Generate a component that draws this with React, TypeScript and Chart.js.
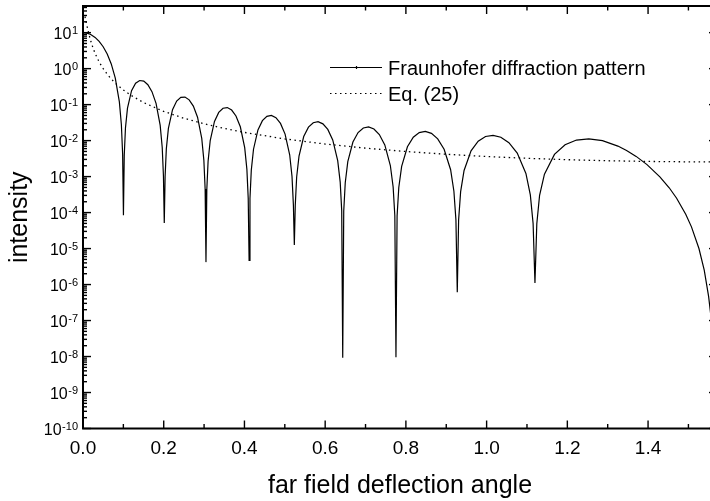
import React, { useEffect, useRef } from "react";
import { Chart, registerables } from "chart.js";

Chart.register(...registerables);

// ---- data ----
const fraunhoferAngle = [
  0, 0.005, 0.01, 0.015, 0.02, 0.03, 0.04, 0.05, 0.06, 0.07, 0.08, 0.0901, 0.0951, 0.0982, 0.10017,
  0.10218, 0.10519, 0.11022, 0.12029, 0.13037, 0.14046, 0.15057, 0.16069, 0.17083, 0.18099, 0.19116, 0.19626, 0.19932, 0.20136,
  0.2034, 0.20646, 0.21158, 0.22181, 0.23208, 0.24237, 0.25268, 0.26302, 0.27339, 0.28379, 0.29423, 0.29945, 0.3026, 0.30469,
  0.30679, 0.30993, 0.31519, 0.32573, 0.3363, 0.34692, 0.35757, 0.36827, 0.37901, 0.3898, 0.40063, 0.40606, 0.40934, 0.41152,
  0.4137, 0.41697, 0.42245, 0.43345, 0.44449, 0.4556, 0.46677, 0.478, 0.48929, 0.50066, 0.51209, 0.51783, 0.52129, 0.5236,
  0.52591, 0.52937, 0.53519, 0.54685, 0.5586, 0.57044, 0.58236, 0.59439, 0.60651, 0.61873, 0.63106, 0.63725, 0.641, 0.6435,
  0.646, 0.64975, 0.65606, 0.66874, 0.68155, 0.6945, 0.70758, 0.72082, 0.73421, 0.74776, 0.76149, 0.7684, 0.7726, 0.7754,
  0.7782, 0.7824, 0.7895, 0.8038, 0.81832, 0.83307, 0.84806, 0.86331, 0.87884, 0.89467, 0.91081, 0.91896, 0.92396, 0.9273,
  0.93063, 0.93563, 0.94415, 0.96141, 0.97911, 0.99728, 1.01599, 1.03527, 1.0552, 1.07586, 1.09735, 1.1083, 1.11518, 1.11977,
  1.12436, 1.13124, 1.14328, 1.16808, 1.19441, 1.22263, 1.25324, 1.287, 1.32523, 1.34672, 1.37046, 1.39737, 1.42926, 1.4524,
  1.47076, 1.49332, 1.50754, 1.52607, 1.53917, 1.55, 1.555, 1.56, 1.565, 1.5708,
];
const fraunhoferIntensity = [
  10, 9.918, 9.675, 9.282, 8.751, 7.369, 5.728, 4.053, 2.546, 1.3534, 0.547, 0.11945, 0.02747, 0.00416, 8.4e-5,
  0.00384, 0.022488, 0.07996, 0.2431, 0.3924, 0.46759, 0.45032, 0.35799, 0.22946, 0.10804, 0.026801, 0.0065203, 0.0010191, 5.1e-5,
  0.00097908, 0.0058996, 0.021939, 0.072325, 0.12536, 0.15911, 0.16211, 0.13557, 0.090968, 0.04465, 0.011504, 0.002849, 0.00044988, 4.2e-6,
  0.00043804, 0.0026652, 0.010068, 0.034185, 0.060896, 0.079278, 0.082711, 0.070715, 0.048441, 0.024242, 0.0063611, 0.001589, 0.00025221, 4.7e-6,
  0.00024722, 0.0015115, 0.0057556, 0.019844, 0.035866, 0.047338, 0.050035, 0.043311, 0.030021, 0.015193, 0.0040297, 0.0010119, 0.00016109, 1.26e-5,
  0.00015853, 0.00097218, 0.0037198, 0.012946, 0.023608, 0.031429, 0.033495, 0.029224, 0.020411, 0.010406, 0.0027794, 0.00070032, 0.00011172, 9.2e-9,
  0.00011024, 0.00067736, 0.0026002, 0.0091065, 0.016708, 0.022375, 0.023981, 0.021039, 0.014773, 0.0075704, 0.0020322, 0.00051329, 0.000082, 9.5e-9,
  0.000081069, 0.00049883, 0.0019193, 0.0067526, 0.012444, 0.016736, 0.018013, 0.015867, 0.011185, 0.0057537, 0.0015503, 0.00039228, 0.000062697, 6.1e-7,
  0.000062113, 0.00038259, 0.0014747, 0.005206, 0.0096263, 0.012988, 0.014024, 0.012391, 0.0087615, 0.0045203, 0.0012215, 0.00030952, 0.000049542, 1.1e-6,
  0.000049104, 0.00030271, 0.0011684, 0.0041358, 0.0076674, 0.010372, 0.011227, 0.0099442, 0.0070481, 0.0053292, 0.0036449, 0.0021524, 0.00098716, 0.00048897,
  0.00025043, 0.000090274, 0.000040111, 0.000010017, 2.5023e-6, 4.696e-7, 1.557e-7, 3.397e-8, 2.82e-9, 1e-10,
];

const eq25Angle = [
  0, 0.005, 0.01, 0.015, 0.02, 0.025, 0.03, 0.04, 0.05, 0.06, 0.07, 0.08, 0.1, 0.12, 0.15, 0.2, 0.25, 0.3, 0.35,
  0.4, 0.5, 0.6, 0.7, 0.8, 0.9, 1.0, 1.1, 1.2, 1.3, 1.4, 1.5, 1.5708,
];
const eq25Intensity = [
  37.6, 27.5, 15.2, 8.74, 5.47, 3.696, 2.64, 1.53, 0.998, 0.699, 0.516, 0.397, 0.255, 0.178, 0.1143, 0.0647, 0.0418, 0.0293, 0.02176,
  0.01688, 0.01114, 0.00803, 0.00617, 0.004975, 0.004172, 0.003615, 0.003223, 0.002947, 0.002757, 0.002636, 0.002573, 0.00256,
];

const seriesLabels = ["Fraunhofer diffraction pattern", "Eq. (25)"];
const xMajorTicks = [0, 0.2, 0.4, 0.6, 0.8, 1.0, 1.2, 1.4];
const xMajorLabels = ["0.0", "0.2", "0.4", "0.6", "0.8", "1.0", "1.2", "1.4"];
const xMinorTicks = [0.1, 0.3, 0.5, 0.7, 0.9, 1.1, 1.3, 1.5];
const yDecadeExponents = [-10, -9, -8, -7, -6, -5, -4, -3, -2, -1, 0, 1];
const yMinorMultipliers = [2, 3, 4, 5, 6, 7, 8, 9];
const xTitle = "far field deflection angle";
const yTitle = "intensity";

const X_MIN = 0;
const X_MAX = 1.5708;
const Y_MIN = 1e-10;
const Y_MAX = 55;

const FONT = "'Liberation Sans', Arial, Helvetica, sans-serif";

const framePlugin = {
  id: "originFrame",
  afterDraw(chart: any) {
    const ctx: CanvasRenderingContext2D = chart.ctx;
    const xs = chart.scales.x;
    const ys = chart.scales.y;
    const { left, right, top, bottom } = chart.chartArea;
    const line = (x0: number, y0: number, x1: number, y1: number) => {
      ctx.beginPath();
      ctx.moveTo(x0, y0);
      ctx.lineTo(x1, y1);
      ctx.stroke();
    };
    ctx.save();
    ctx.strokeStyle = "#000";
    ctx.fillStyle = "#000";
    ctx.setLineDash([]);

    // frame
    ctx.lineWidth = 2;
    ctx.strokeRect(left, top, right - left, bottom - top);

    // x ticks (inward, bottom and top)
    ctx.lineWidth = 1.4;
    for (const v of xMajorTicks) {
      const px = xs.getPixelForValue(v);
      line(px, bottom, px, bottom - 8);
      line(px, top, px, top + 8);
    }
    for (const v of xMinorTicks) {
      const px = xs.getPixelForValue(v);
      line(px, bottom, px, bottom - 4.5);
      line(px, top, px, top + 4.5);
    }
    // y ticks (inward, left and right)
    for (const e of yDecadeExponents) {
      const base = Math.pow(10, e);
      const py = ys.getPixelForValue(base);
      line(left, py, left + 8, py);
      line(right, py, right - 8, py);
      for (const m of yMinorMultipliers) {
        const v = m * base;
        if (v > Y_MAX) continue;
        const pm = ys.getPixelForValue(v);
        line(left, pm, left + 4, pm);
        line(right, pm, right - 4, pm);
      }
    }

    // x tick labels
    ctx.font = `19px ${FONT}`;
    ctx.textAlign = "center";
    ctx.textBaseline = "alphabetic";
    xMajorTicks.forEach((v, i) => {
      ctx.fillText(xMajorLabels[i], xs.getPixelForValue(v), bottom + 25.5);
    });

    // y tick labels: 10^e
    const xEnd = left - 5;
    for (const e of yDecadeExponents) {
      const py = ys.getPixelForValue(Math.pow(10, e));
      const expText = String(e);
      ctx.font = `11px ${FONT}`;
      const expW = ctx.measureText(expText).width;
      ctx.textAlign = "left";
      ctx.fillText(expText, xEnd - expW, py + 1);
      ctx.font = `16px ${FONT}`;
      ctx.textAlign = "right";
      ctx.fillText("10", xEnd - expW - 0.5, py + 6);
    }

    // axis titles
    ctx.font = `25px ${FONT}`;
    ctx.textAlign = "center";
    ctx.fillText(xTitle, (left + right) / 2, 493);
    ctx.save();
    ctx.translate(27, (top + bottom) / 2);
    ctx.rotate(-Math.PI / 2);
    ctx.fillText(yTitle, 0, 0);
    ctx.restore();

    // legend
    ctx.lineWidth = 1.2;
    line(330, 67.5, 382, 67.5);
    line(356.5, 66, 356.5, 69);
    ctx.setLineDash([1.5, 3.5]);
    line(330, 93.5, 382, 93.5);
    ctx.setLineDash([]);
    ctx.font = `20px ${FONT}`;
    ctx.textAlign = "left";
    ctx.fillText(seriesLabels[0], 388, 75);
    ctx.fillText(seriesLabels[1], 388, 101);

    ctx.restore();
  },
};

export default function App() {
  const canvasRef = useRef<HTMLCanvasElement | null>(null);

  useEffect(() => {
    const canvas = canvasRef.current;
    if (!canvas) return;
    const chart = new Chart(canvas, {
      type: "line",
      data: {
        datasets: [
          {
            label: seriesLabels[0],
            data: fraunhoferAngle.map((x, i) => ({ x, y: fraunhoferIntensity[i] })),
            borderColor: "#000",
            borderWidth: 1.2,
            pointRadius: 0,
            tension: 0,
            fill: false,
          },
          {
            label: seriesLabels[1],
            data: eq25Angle.map((x, i) => ({ x, y: eq25Intensity[i] })),
            borderColor: "#000",
            borderWidth: 1.3,
            borderDash: [1.5, 3.5],
            pointRadius: 0,
            tension: 0,
            fill: false,
          },
        ],
      },
      options: {
        responsive: false,
        animation: false,
        events: [],
        layout: { padding: { left: 83, right: 3, top: 6, bottom: 72.5 } },
        scales: {
          x: { type: "linear", min: X_MIN, max: X_MAX, display: false },
          y: { type: "logarithmic", min: Y_MIN, max: Y_MAX, display: false },
        },
        plugins: {
          legend: { display: false },
          tooltip: { enabled: false },
        },
      },
      plugins: [framePlugin],
    });
    return () => chart.destroy();
  }, []);

  return (
    <div
      style={{
        position: "absolute",
        left: 0,
        top: 0,
        width: 710,
        height: 501,
        overflow: "hidden",
        background: "#fff",
      }}
    >
      <canvas
        ref={canvasRef}
        width={720}
        height={501}
        style={{ display: "block", width: 720, height: 501 }}
      />
    </div>
  );
}
